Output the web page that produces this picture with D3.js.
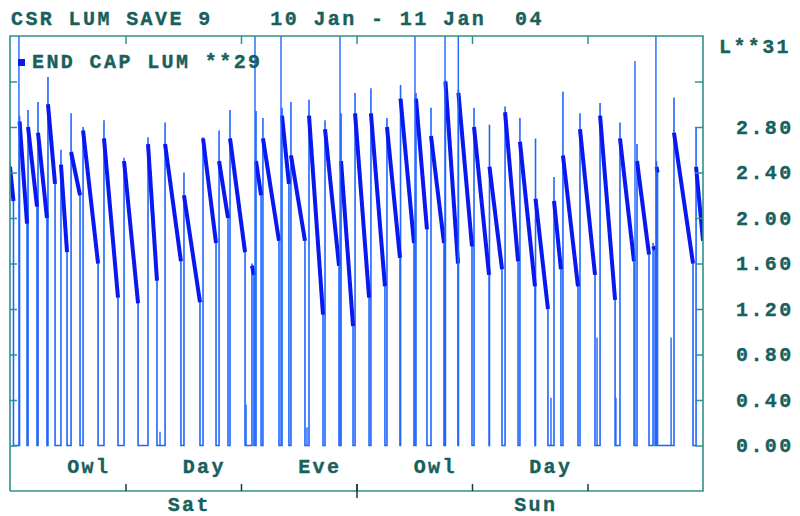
<!DOCTYPE html>
<html>
<head>
<meta charset="utf-8">
<script src="https://cdn.jsdelivr.net/npm/d3@7"></script>
<style>
  body { margin: 0; background: #fff; }
  text { font-family: "Liberation Mono", "Courier New", monospace; font-weight: bold; fill: #17605c; stroke: #17605c; stroke-width: 0.35px; }
</style>
</head>
<body>
<div id="chart"></div>
<script>
const titleText = "CSR LUM SAVE 9    10 Jan - 11 Jan  04";
const seriesName = "END CAP LUM **29";
const axisName = "L**31";

const shiftLabels = ["Owl", "Day", "Eve", "Owl", "Day"];
const shiftHours = [4, 12, 20, 28, 36];
const dayLabels = ["Sat", "Sun"];
const dayHours = [12, 36];
const shiftTicks = [8, 16, 24, 32, 40];
const dayBreak = [24];

const yTicks = [0, 0.4, 0.8, 1.2, 1.6, 2.0, 2.4, 2.8, 3.2];
const yLabels = [0, 0.4, 0.8, 1.2, 1.6, 2.0, 2.4, 2.8];

// one entry per lamp-on period: hour on, hour off, peak, level after peak, level at switch-off
const pulseOn = [0, 0.66, 1.25, 1.94, 2.63, 3.53, 4.23, 5.06, 6.51, 7.90, 9.56, 10.74, 12.05, 13.37, 14.48,
  15.24, 16.76, 17.04, 17.52, 18.84, 19.46, 20.71, 21.82, 22.93, 23.90, 25.00, 26.11, 27.05, 28.12, 29.16,
  30.16, 31.06, 32.14, 33.21, 34.29, 35.32, 36.40, 37.68, 38.30, 39.48, 40.87, 42.25, 43.43, 44.54, 44.78,
  45.99, 47.52];
const pulseOff = [0.24, 1.18, 1.87, 2.56, 3.12, 3.95, 4.85, 6.10, 7.48, 8.87, 10.18, 11.84, 13.16, 14.27, 15.10,
  16.28, 16.90, 17.39, 18.63, 19.32, 20.43, 21.68, 22.79, 23.76, 24.87, 25.97, 27.01, 27.98, 28.88, 30.06,
  31.03, 32.00, 33.18, 34.08, 35.19, 36.36, 37.26, 38.16, 39.34, 40.52, 41.91, 43.22, 44.26, 44.68, 44.85,
  47.31, 48];
const pulsePeak = [2.5, 2.9, 2.95, 3.02, 3.24, 2.6, 2.92, 2.8, 2.86, 2.53, 2.71, 2.84, 2.4, 2.71, 2.77,
  2.95, 1.6, 2.94, 2.88, 2.97, 3.02, 3.04, 2.86, 2.92, 3.1, 3.14, 2.88, 3.17, 3.1, 2.97,
  3.21, 3.13, 2.97, 2.82, 2.98, 2.88, 2.7, 2.36, 3.11, 2.92, 3.01, 2.84, 2.65, 1.78, 2.5,
  3.06, 2.8];
const pulseHigh = [2.45, 2.85, 2.8, 2.75, 3.0, 2.47, 2.58, 2.77, 2.7, 2.5, 2.65, 2.65, 2.2, 2.7, 2.5,
  2.7, 1.58, 2.5, 2.7, 2.9, 2.55, 2.9, 2.78, 2.5, 2.92, 2.92, 2.8, 3.05, 3.05, 2.72,
  3.2, 3.1, 2.8, 2.45, 2.93, 2.67, 2.17, 2.15, 2.55, 2.78, 2.9, 2.7, 2.5, 1.75, 2.45,
  2.75, 2.45];
const pulseLow = [2.15, 1.95, 2.1, 2.0, 2.3, 1.7, 2.2, 1.6, 1.3, 1.25, 1.45, 1.62, 1.26, 1.78, 2.0,
  1.7, 1.5, 2.2, 1.8, 2.3, 1.8, 1.15, 1.58, 1.05, 1.3, 1.4, 1.65, 1.78, 1.9, 1.78,
  1.6, 1.75, 1.5, 1.55, 1.62, 1.4, 1.2, 1.55, 1.4, 1.5, 1.28, 1.62, 1.68, 1.72, 2.4,
  1.6, 1.8];

// single-sample spikes and blips
const spikeHour = [0.62, 16.97, 18.77, 22.86, 28.05, 30.13, 31.05, 43.29, 44.74,
  10.39, 16.35, 20.57, 37.47, 40.66, 41.97, 45.79];
const spikeLum = [3.7, 3.7, 3.7, 3.7, 3.7, 3.7, 3.7, 3.38, 3.7,
  0.12, 0.36, 0.16, 0.42, 0.95, 0.42, 0.95];

const width = 800, height = 516;
const plotLeft = 10, plotRight = 703, plotTop = 36, zeroY = 445.5, axisY = 491;

const svg = d3.select("#chart").append("svg")
  .attr("width", width)
  .attr("height", height);

const x = d3.scaleLinear().domain([0, 48]).range([plotLeft, plotRight]);
const y = d3.scaleLinear().domain([0, 3.6]).range([zeroY, plotTop]);

svg.append("defs").append("clipPath").attr("id", "plot")
  .append("rect")
  .attr("x", plotLeft).attr("y", plotTop)
  .attr("width", plotRight - plotLeft).attr("height", zeroY - plotTop + 2);

// build the trace from the pulses
const pts = [];
pulseOn.forEach((on, i) => {
  if (i > 0) pts.push([on, 0]);
  pts.push([on, pulsePeak[i]]);
  pts.push([on, pulseHigh[i]]);
  pts.push([pulseOff[i], pulseLow[i]]);
  if (pulseOff[i] < 48) pts.push([pulseOff[i], 0]);
});

const line = d3.line()
  .x(d => x(d[0]))
  .y(d => y(d[1]));

const g = svg.append("g").attr("clip-path", "url(#plot)");

g.append("path")
  .datum(pts)
  .attr("fill", "none")
  .attr("stroke", "#1f66ff")
  .attr("stroke-width", 1.6)
  .attr("d", line);

// dense decay band
g.selectAll(".decay")
  .data(pulseOn.map((on, i) => [[on, pulseHigh[i]], [pulseOff[i], pulseLow[i]]]))
  .enter()
  .append("path")
  .attr("class", "decay")
  .attr("fill", "none")
  .attr("stroke", "#0a18f0")
  .attr("stroke-width", 4)
  .attr("d", line);

g.selectAll(".spike")
  .data(spikeHour.map((h, i) => [[h, 0], [h, spikeLum[i]]]))
  .enter()
  .append("path")
  .attr("class", "spike")
  .attr("fill", "none")
  .attr("stroke", "#1f66ff")
  .attr("stroke-width", 1.4)
  .attr("d", line);

// frame
const frameColor = "#2f918b";
svg.append("path")
  .attr("d", `M${plotLeft},${axisY}V${plotTop}H${plotRight}V${axisY}H${plotLeft}`)
  .attr("fill", "none")
  .attr("stroke", frameColor)
  .attr("stroke-width", 1.6);

// y ticks inside on both sides
const leftAxis = svg.append("g")
  .attr("transform", `translate(${plotLeft},0)`)
  .call(d3.axisRight(y).tickValues(yTicks).tickSize(7).tickFormat(""));
const rightAxis = svg.append("g")
  .attr("transform", `translate(${plotRight},0)`)
  .call(d3.axisLeft(y).tickValues(yTicks).tickSize(8).tickFormat(""));
[leftAxis, rightAxis].forEach(a => {
  a.select(".domain").remove();
  a.selectAll("line").attr("stroke", frameColor).attr("stroke-width", 1.5);
});

// right labels
const labelAxis = svg.append("g")
  .attr("transform", `translate(${plotRight},0)`)
  .call(d3.axisRight(y).tickValues(yLabels).tickSize(0).tickPadding(33).tickFormat(d3.format(".2f")));
labelAxis.select(".domain").remove();
labelAxis.selectAll("text")
  .attr("fill", null)
  .style("font-size", "20px")
  .style("font-family", "'Liberation Mono', monospace")
  .attr("letter-spacing", 2.4)
  .attr("dy", "0.32em");

// shift ticks, top and bottom
svg.append("g")
  .attr("transform", `translate(0,${plotTop})`)
  .call(d3.axisBottom(x).tickValues(shiftTicks).tickSize(8).tickFormat(""))
  .call(a => a.select(".domain").remove())
  .selectAll("line").attr("stroke", frameColor).attr("stroke-width", 1.5);
svg.append("g")
  .attr("transform", `translate(0,${axisY})`)
  .call(d3.axisTop(x).tickValues(shiftTicks).tickSize(7).tickFormat(""))
  .call(a => a.select(".domain").remove())
  .selectAll("line").attr("stroke", "#1a3a38").attr("stroke-width", 1.5);
svg.append("g")
  .attr("transform", `translate(0,${axisY + 7})`)
  .call(d3.axisTop(x).tickValues(dayBreak).tickSize(14).tickFormat(""))
  .call(a => a.select(".domain").remove())
  .selectAll("line").attr("stroke", "#1a3a38").attr("stroke-width", 1.5);

// labels
const fs = 20, ls = 2.4;
svg.append("text")
  .attr("x", 11).attr("y", 25)
  .attr("font-size", fs).attr("letter-spacing", ls)
  .style("white-space", "pre")
  .text(titleText);

svg.append("rect")
  .attr("x", 18).attr("y", 59).attr("width", 7).attr("height", 7)
  .attr("fill", "#0a18f0");
svg.append("text")
  .attr("x", 32).attr("y", 68)
  .attr("font-size", fs).attr("letter-spacing", ls)
  .style("white-space", "pre")
  .text(seriesName);

svg.append("text")
  .attr("x", 719).attr("y", 53)
  .attr("font-size", fs).attr("letter-spacing", ls)
  .text(axisName);

svg.selectAll(".shift")
  .data(shiftLabels)
  .enter()
  .append("text")
  .attr("class", "shift")
  .attr("x", (d, i) => x(shiftHours[i]) + 21)
  .attr("y", 473)
  .attr("text-anchor", "middle")
  .attr("font-size", fs).attr("letter-spacing", ls)
  .text(d => d);

svg.selectAll(".day")
  .data(dayLabels)
  .enter()
  .append("text")
  .attr("class", "day")
  .attr("x", (d, i) => x(dayHours[i]) + 6)
  .attr("y", 511)
  .attr("text-anchor", "middle")
  .attr("font-size", fs).attr("letter-spacing", ls)
  .text(d => d);
</script>
</body>
</html>
